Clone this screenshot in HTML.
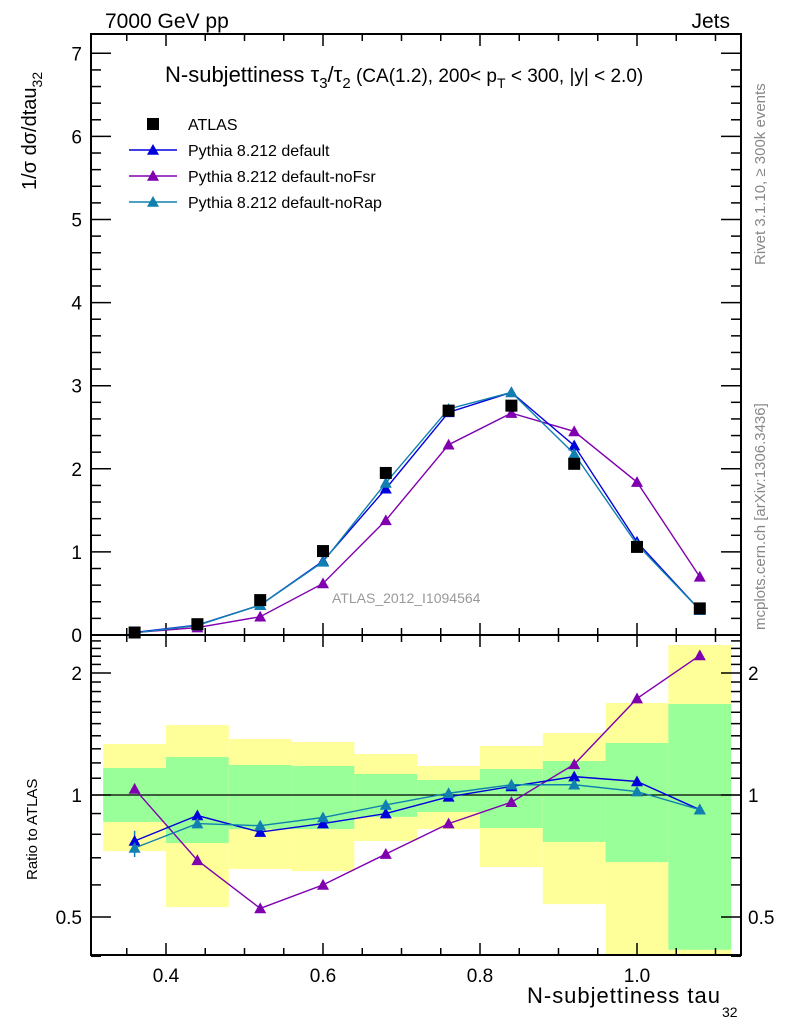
<!DOCTYPE html>
<html><head><meta charset="utf-8"><style>
body{margin:0;background:#fff;}
svg{display:block;font-family:"Liberation Sans",sans-serif;}
</style></head><body>
<svg id="chart" width="786" height="1024" viewBox="0 0 786 1024">
<text x="105" y="28" font-size="21">7000 GeV pp</text>
<text x="730" y="28" font-size="21" text-anchor="end">Jets</text>
<text transform="translate(765,265) rotate(-90)" font-size="15" fill="#888">Rivet 3.1.10, ≥ 300k events</text>
<text transform="translate(765,630) rotate(-90)" font-size="15" fill="#888">mcplots.cern.ch [arXiv:1306.3436]</text>
<text transform="translate(36,190) rotate(-90)" font-size="20">1/σ dσ/dtau<tspan font-size="14" dy="6">32</tspan></text>
<text transform="translate(37,880) rotate(-90)" font-size="15">Ratio to ATLAS</text>
<text x="527" y="1003" font-size="22" textLength="193">N-subjettiness tau</text>
<text x="722" y="1017" font-size="14">32</text>
<text x="165" y="82" font-size="22">N-subjettiness τ<tspan font-size="15" dy="6">3</tspan><tspan dy="-6">/τ</tspan><tspan font-size="15" dy="6">2</tspan><tspan dy="-6" font-size="19"> (CA(1.2), 200&lt; p</tspan><tspan font-size="14" dy="6">T</tspan><tspan dy="-6" font-size="19"> &lt; 300, |y| &lt; 2.0)</tspan></text>
<text x="332" y="603" font-size="14" fill="#999">ATLAS_2012_I1094564</text>
<g id="g"></g>
</svg>
<script>
const xCenters=[0.36,0.44,0.52,0.60,0.68,0.76,0.84,0.92,1.00,1.08];
const binEdges=[0.32,0.40,0.48,0.56,0.64,0.72,0.80,0.88,0.96,1.04,1.12];
const atlas=[0.03,0.13,0.42,1.01,1.95,2.70,2.76,2.06,1.06,0.32];
const pyDefault=[0.03,0.12,0.36,0.89,1.76,2.68,2.92,2.28,1.12,0.30];
const pyNoFsr=[0.03,0.09,0.22,0.62,1.38,2.29,2.67,2.45,1.84,0.70];
const pyNoRap=[0.025,0.115,0.36,0.88,1.83,2.72,2.92,2.18,1.09,0.30];
const rDefault=[0.77,0.89,0.81,0.85,0.90,0.99,1.05,1.11,1.08,0.92];
const rNoFsr=[1.035,0.69,0.525,0.60,0.715,0.85,0.96,1.19,1.73,2.21];
const rNoRap=[0.74,0.85,0.84,0.88,0.945,1.01,1.06,1.06,1.02,0.92];
const yellowHi=[1.336,1.488,1.375,1.351,1.262,1.179,1.321,1.422,1.687,2.345];
const yellowLo=[0.727,0.529,0.657,0.649,0.770,0.824,0.664,0.538,0.30,0.30];
const greenHi=[1.166,1.241,1.186,1.179,1.127,1.089,1.159,1.213,1.344,1.677];
const greenLo=[0.858,0.761,0.824,0.824,0.883,0.908,0.829,0.766,0.683,0.415];
const xTicks=[0.4,0.6,0.8,1.0];
const yTicks=[0,1,2,3,4,5,6,7];
const rTicks=[0.5,1,2];

const NS='http://www.w3.org/2000/svg';
const g=document.getElementById('g');
const L=91,R=741,MT=34,MB=635,RT=635,RB=955;
const X=v=>-148+v*785;
const Y=v=>635-v*83.1;
const RY=v=>795-Math.log2(v)*122;
function el(t,a,p){const e=document.createElementNS(NS,t);for(const k in a)e.setAttribute(k,a[k]);(p||g).appendChild(e);return e;}
const clip=el('clipPath',{id:'rc'});el('rect',{x:L,y:RT,width:R-L,height:RB-RT},clip);
const bands=el('g',{'clip-path':'url(#rc)'});
for(let i=0;i<xCenters.length;i++){
  const y=el('rect',{x:X(binEdges[i]),y:RY(yellowHi[i]),width:X(binEdges[i+1])-X(binEdges[i]),height:RY(yellowLo[i])-RY(yellowHi[i]),fill:'#ffff99'},bands);
  
  
  const gr=el('rect',{x:X(binEdges[i]),y:RY(greenHi[i]),width:X(binEdges[i+1])-X(binEdges[i]),height:RY(greenLo[i])-RY(greenHi[i]),fill:'#99ff99'},bands);
  
  
}
el('line',{x1:L,x2:R,y1:RY(1),y2:RY(1),stroke:'#000','stroke-width':1.3});
el('rect',{x:L,y:MT,width:R-L,height:MB-MT,fill:'none',stroke:'#000','stroke-width':2});
el('rect',{x:L,y:RT,width:R-L,height:RB-RT,fill:'none',stroke:'#000','stroke-width':2});
for(let v=0.35;v<1.13;v+=0.05){
  const vv=Math.round(v*100)/100;const maj=xTicks.some(t=>Math.abs(t-vv)<1e-6);const len=maj?12:7;const x=X(vv);
  [[MB,-1],[MT,1],[RB,-1],[RT,1]].forEach(([y0,d])=>el('line',{x1:x,x2:x,y1:y0,y2:y0+d*len,stroke:'#000','stroke-width':1.5}));
}
xTicks.forEach(v=>{const t=el('text',{x:X(v),y:982,'font-size':19,'text-anchor':'middle'});t.textContent=v.toFixed(1);

});
for(let v=0;v<=7.2;v+=0.2){
  const vv=Math.round(v*10)/10;const maj=Math.abs(vv-Math.round(vv))<1e-6;const len=maj?20:10;const y=Y(vv);
  el('line',{x1:L,x2:L+len,y1:y,y2:y,stroke:'#000','stroke-width':1.5});
  el('line',{x1:R,x2:R-len,y1:y,y2:y,stroke:'#000','stroke-width':1.5});
}
yTicks.forEach(v=>{const t=el('text',{x:82,y:Y(v)+7,'font-size':19,'text-anchor':'end'});t.textContent=v;

});
[0.4,0.5,0.6,0.7,0.8,0.9,1,1.1,1.2,1.3,1.4,1.5,1.6,1.7,1.8,1.9,2,2.1,2.2,2.3,2.4].forEach(v=>{
  const maj=rTicks.includes(v);const len=maj?20:10;const y=RY(v);
  el('line',{x1:L,x2:L+len,y1:y,y2:y,stroke:'#000','stroke-width':1.5});
  el('line',{x1:R,x2:R-len,y1:y,y2:y,stroke:'#000','stroke-width':1.5});
});
rTicks.forEach(v=>{
  const t=el('text',{x:82,y:RY(v)+7,'font-size':19,'text-anchor':'end'});t.textContent=v;
  
  
  const t2=el('text',{x:748,y:RY(v)+7,'font-size':19});t2.textContent=v;
  
  
});
function tri(x,y,c,p){const s=6;return el('polygon',{points:`${x},${y-s} ${x-s},${y+s*0.8} ${x+s},${y+s*0.8}`,fill:c},p);}
function series(vals,yf,c,name){
  const grp=el('g',{});
  
  
  el('polyline',{points:vals.map((v,i)=>X(xCenters[i])+','+yf(v)).join(' '),fill:'none',stroke:c,'stroke-width':1.4},grp);
  vals.forEach((v,i)=>tri(X(xCenters[i]),yf(v),c,grp));
}
el('line',{x1:X(0.36),x2:X(0.36),y1:RY(rDefault[0]*1.06),y2:RY(rNoRap[0]*0.95),stroke:'#1080b0','stroke-width':1.5});
el('line',{x1:X(0.36),x2:X(0.36),y1:RY(rNoFsr[0]*1.03),y2:RY(rNoFsr[0]),stroke:'#8000b0','stroke-width':1.5});
series(rNoFsr,RY,'#8000b0','ratio-noFsr');
series(rDefault,RY,'#0000dd','ratio-default');
series(rNoRap,RY,'#1080b0','ratio-noRap');
series(pyNoFsr,Y,'#8000b0','main-noFsr');
series(pyDefault,Y,'#0000dd','main-default');
series(pyNoRap,Y,'#1080b0','main-noRap');
atlas.forEach((v,i)=>{const r=el('rect',{x:X(xCenters[i])-6,y:Y(v)-6,width:12,height:12,fill:'#000'});

});
const lg=el('g',{});


el('rect',{x:147,y:118,width:12,height:12,fill:'#000'},lg);
const leg=[['ATLAS',null],['Pythia 8.212 default','#0000dd'],['Pythia 8.212 default-noFsr','#8000b0'],['Pythia 8.212 default-noRap','#1080b0']];
leg.forEach((e,i)=>{const y=124+i*26;
  if(e[1]){el('line',{x1:129,x2:177,y1:y,y2:y,stroke:e[1],'stroke-width':1.4},lg);tri(153,y,e[1],lg);}
  const t=el('text',{x:188,y:y+6,'font-size':16},lg);t.textContent=e[0];
  
  
});
</script>
</body></html>
